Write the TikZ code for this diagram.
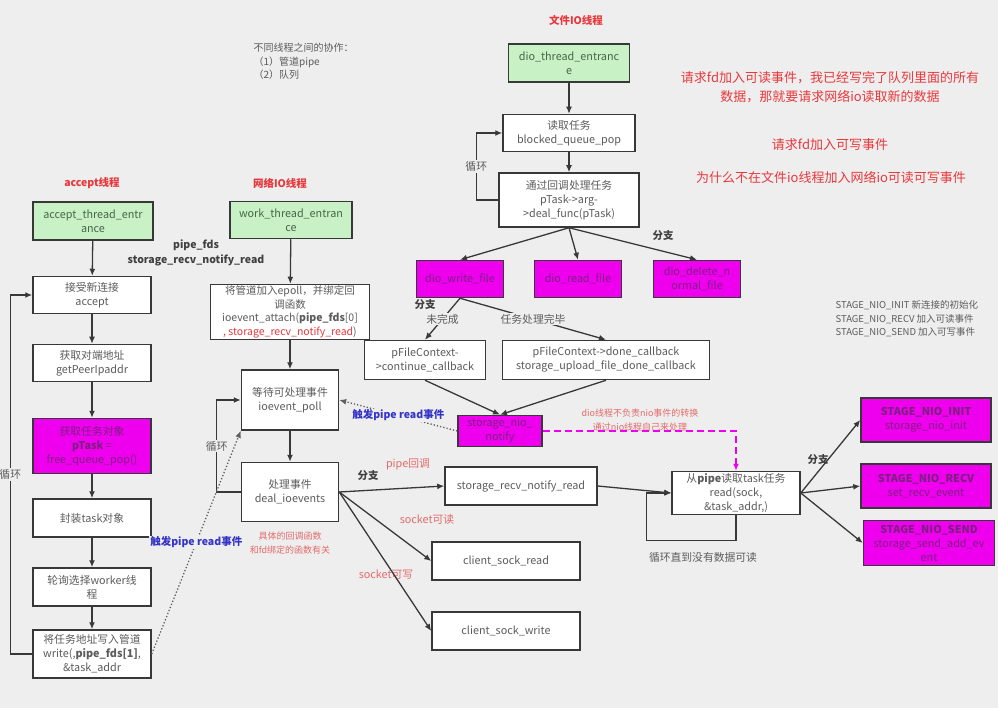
\documentclass[tikz,border=0pt]{standalone}
\usepackage{fontspec}
\setmainfont{Noto Sans CJK SC}
\usepackage{xcolor}
\usetikzlibrary{arrows.meta}
\definecolor{bggray}{HTML}{EEEEEE}
\definecolor{boxline}{HTML}{383838}
\definecolor{boxtext}{HTML}{5C5C5C}
\definecolor{entrygreen}{HTML}{C8F2C6}
\definecolor{entrytext}{HTML}{466646}
\definecolor{taskpink}{HTML}{EE00EE}
\definecolor{pinktext}{HTML}{7C2080}
\definecolor{notered}{HTML}{E8383C}
\definecolor{lightred}{HTML}{E46A6A}
\definecolor{trigblue}{HTML}{3434C8}

\begin{document}
\begin{tikzpicture}[x=1pt,y=-1pt,
    font=\fontsize{10.8}{14}\selectfont,
    box/.style={draw=boxline, line width=1.5pt, fill=white, text=boxtext, align=center, inner sep=1pt},
    entry/.style={box, fill=entrygreen, text=entrytext},
    pinkbox/.style={box, fill=taskpink, text=pinktext},
    flow/.style={draw=boxline, line width=1.3pt, -{Latex[length=7pt,width=6pt]}},
    trigger/.style={draw=boxline!80, line width=1.3pt, dotted, -{Latex[length=7pt,width=6pt]}},
    lbl/.style={fill=bggray, text=boxtext, inner sep=1pt},
    branch/.style={text=black!75, font=\fontsize{10.5}{12}\selectfont\bfseries},
    trig/.style={fill=bggray, text=trigblue, inner sep=1pt, font=\fontsize{10.5}{12}\selectfont\bfseries},
    title/.style={text=notered, font=\fontsize{10.5}{12}\selectfont\bfseries},
    remark/.style={text=lightred, align=center, font=\fontsize{9}{14.5}\selectfont},
    bignote/.style={text=notered, align=center, font=\fontsize{13}{19}\selectfont}]

\fill[bggray] (0,0) rectangle (998,708);
\useasboundingbox (0,0) rectangle (998,708);

% titles and notes
\node[title] (t_accept) at (92,183) {accept线程};
\node[title] (t_nio) at (280,183) {网络IO线程};
\node[title] (t_dio) at (576,20) {文件IO线程};
\node[text=boxtext, align=left, anchor=north west, font=\fontsize{10}{13.5}\selectfont] (coop) at (250,40) {不同线程之间的协作：\\（1）管道pipe\\（2）队列};
\node[text=black!75, align=center, font=\fontsize{10.5}{14.5}\selectfont\bfseries] (pipefds) at (196,253) {pipe\_fds\\storage\_recv\_notify\_read};
\node[bignote] (q1) at (830,87) {请求fd加入可读事件，我已经写完了队列里面的所有\\数据，那就要请求网络io读取新的数据};
\node[bignote] (q2) at (830,145) {请求fd加入可写事件};
\node[bignote] (q3) at (831,178) {为什么不在文件io线程加入网络io可读可写事件};
\node[text=boxtext, align=left, anchor=north west, font=\fontsize{9.5}{13.5}\selectfont] (stages) at (832,297) {STAGE\_NIO\_INIT 新连接的初始化\\STAGE\_NIO\_RECV 加入可读事件\\STAGE\_NIO\_SEND 加入可写事件};

% accept thread
\node[entry, minimum width=120, minimum height=38] (accentry) at (93,221) {accept\_thread\_entr\\ance};
\node[box, minimum width=118, minimum height=37] (accept) at (92,295) {接受新连接\\accept};
\node[box, minimum width=118, minimum height=37] (getpeer) at (92,363) {获取对端地址\\getPeerIpaddr};
\node[pinkbox, minimum width=118, minimum height=55] (poptask) at (92,446) {获取任务对象\\\textbf{pTask} =\\free\_queue\_pop()};
\node[box, minimum width=118, minimum height=38] (packtask) at (92,518) {封装task对象};
\node[box, minimum width=118, minimum height=38] (pickworker) at (92,587) {轮询选择worker线\\程};
\node[box, minimum width=118, minimum height=48] (writepipe) at (92,654) {将任务地址写入管道\\write(,\textbf{pipe\_fds[1]},\\\&task\_addr};

\draw[flow] (accentry) -- (accept);
\draw[flow] (accept) -- (getpeer);
\draw[flow] (getpeer) -- (poptask);
\draw[flow] (poptask) -- (packtask);
\draw[flow] (packtask) -- (pickworker);
\draw[flow] (pickworker) -- (writepipe);
\draw[flow] (writepipe.west) -- ++(-22,0) |- node[lbl, pos=0.25] {循环} (accept.west);

% network io thread
\node[entry, minimum width=122, minimum height=37] (workentry) at (291,220) {work\_thread\_entran\\ce};
\node[box, minimum width=159, minimum height=55, font=\fontsize{10.5}{13.5}\selectfont] (attach) at (290,312) {将管道加入epoll，并绑定回\\调函数\\ioevent\_attach(\textbf{pipe\_fds}[0]\\{\color{notered}, storage\_recv\_notify\_read})};
\node[box, minimum width=97, minimum height=60] (poll) at (290,400) {等待可处理事件\\ioevent\_poll};
\node[box, minimum width=97, minimum height=59] (dealev) at (290,492) {处理事件\\deal\_ioevents};
\node[box, minimum width=152, minimum height=38] (recvnotify) at (521,486) {storage\_recv\_notify\_read};
\node[box, minimum width=148, minimum height=38] (sockread) at (506,561) {client\_sock\_read};
\node[box, minimum width=148, minimum height=38] (sockwrite) at (506,631) {client\_sock\_write};

\draw[flow] (workentry) -- (attach);
\draw[flow] (attach) -- (poll);
\draw[flow] (poll) -- (dealev);
\draw[flow] (dealev.west) -- ++(-24,0) |- node[lbl, pos=0.25] {循环} (poll.west);
\node[remark] (cbnote) at (290,543) {具体的回调函数\\和fd绑定的函数有关};
\node[branch] (br_nio) at (368,476) {分支};
\node[text=lightred] (l_pipe) at (408,464) {pipe回调};
\node[text=lightred] (l_read) at (427,519) {socket可读};
\node[text=lightred] (l_write) at (386,575) {socket可写};
\draw[flow] (dealev.east) -- (recvnotify.west);
\draw[flow] (dealev.east) -- (sockread.west);
\draw[flow] (dealev.east) -- (sockwrite.west);
\draw[trigger] (writepipe.east) -- node[trig] {触发pipe read事件} (poll.south west);

% file io thread
\node[entry, minimum width=121, minimum height=38] (dioentry) at (569,63) {dio\_thread\_entranc\\e};
\node[box, minimum width=132, minimum height=37] (queuepop) at (569,133) {读取任务\\blocked\_queue\_pop};
\node[box, minimum width=140, minimum height=54] (dealfunc) at (569,200) {通过回调处理任务\\pTask->arg-\\>deal\_func(pTask)};
\node[pinkbox, minimum width=87, minimum height=37] (diowrite) at (460,279) {dio\_write\_file};
\node[pinkbox, minimum width=87, minimum height=37] (dioread) at (578,279) {dio\_read\_file};
\node[pinkbox, minimum width=87, minimum height=37] (diodelete) at (697,279) {dio\_delete\_n\\ormal\_file};
\node[box, minimum width=121, minimum height=39] (contcb) at (425,360) {pFileContext-\\>continue\_callback};
\node[box, minimum width=207, minimum height=39] (donecb) at (606,360) {pFileContext->done\_callback\\storage\_upload\_file\_done\_callback};
\node[pinkbox, minimum width=84, minimum height=31] (nionotify) at (500,431) {storage\_nio\_\\notify};

\draw[flow] (dioentry) -- (queuepop);
\draw[flow] (queuepop) -- (dealfunc);
\draw[flow] (dealfunc.west) -- ++(-22,0) |- node[lbl, pos=0.25] {循环} (queuepop.west);
\node[branch] (br_dio) at (663,236) {分支};
\draw[flow] (dealfunc.south) -- (diowrite.north);
\draw[flow] (dealfunc.south) -- (dioread.north);
\draw[flow] (dealfunc.south) -- (diodelete.north);
\node[branch] (br_write) at (425,305) {分支};
\draw[flow] (diowrite.south) -- node[lbl] {未完成} (contcb.north);
\draw[flow] (diowrite.south) -- node[lbl] {任务处理完毕} (donecb.north);
\draw[flow] (contcb.south) -- (nionotify.north);
\draw[flow] (donecb.south) -- (nionotify.north);
\draw[trigger] (nionotify.west) -- node[trig] {触发pipe read事件} (poll.east);

% read pipe and stages
\node[box, minimum width=128, minimum height=43] (readpipe) at (736,493) {从\textbf{pipe}读取task任务\\read(sock,\\\&task\_addr,)};
\node[pinkbox, minimum width=130, minimum height=44] (nioinit) at (926,420) {\textbf{STAGE\_NIO\_INIT}\\storage\_nio\_init};
\node[pinkbox, minimum width=130, minimum height=44] (niorecv) at (926,486) {\textbf{STAGE\_NIO\_RECV}\\set\_recv\_event};
\node[pinkbox, minimum width=131, minimum height=45] (niosend) at (929,543) {\textbf{STAGE\_NIO\_SEND}\\storage\_send\_add\_ev\\ent};

\node[remark] (dionote) at (640,420) {dio线程不负责nio事件的转换\\通过nio线程自己来处理};
\draw[taskpink, line width=1.5pt, dash pattern=on 7pt off 4pt, -{Latex[length=7pt,width=6pt]}] (nionotify.east) -| (readpipe.north);
\draw[flow] (recvnotify.east) -- (readpipe.west);
\draw[flow] (readpipe.south) -- ++(0,25) -| ([xshift=-25pt]readpipe.west) -- (readpipe.west);
\node[text=boxtext] (loopnote) at (703,557) {循环直到没有数据可读};
\node[branch] (br_stage) at (818,460) {分支};
\draw[flow] (readpipe.east) -- (nioinit.west);
\draw[flow] (readpipe.east) -- (niorecv.west);
\draw[flow] (readpipe.east) -- (niosend.west);

\end{tikzpicture}
\end{document}
